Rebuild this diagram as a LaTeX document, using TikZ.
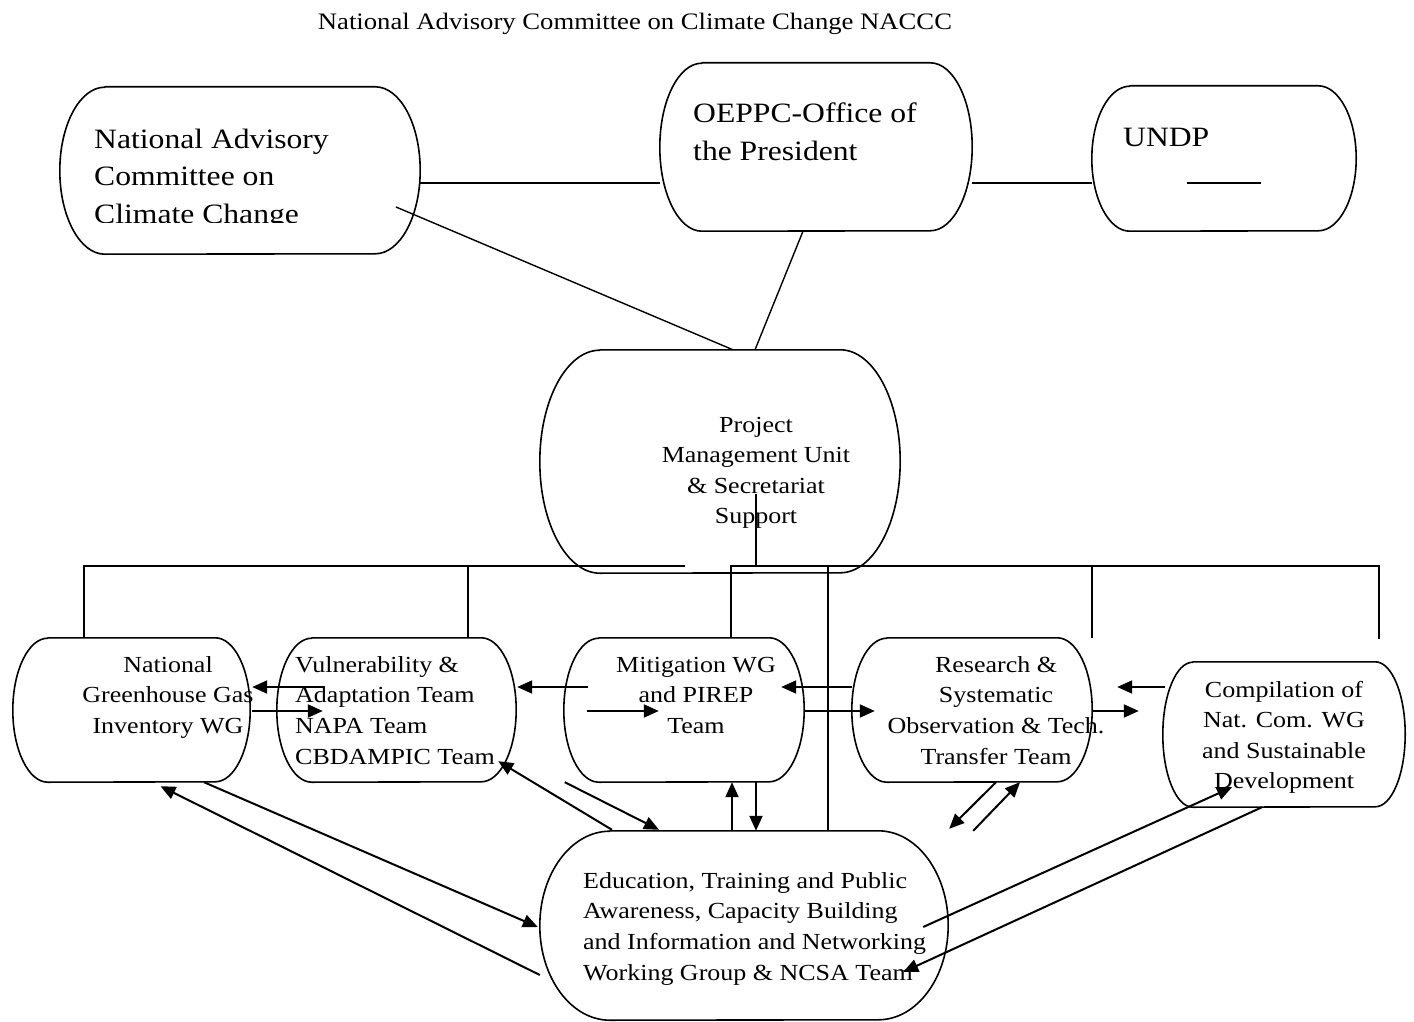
\documentclass[tikz,border=0pt]{standalone}
\usepackage{fontspec}
\setmainfont{Liberation Serif}[FakeStretch=1.13]
\usetikzlibrary{arrows.meta}
\tikzset{
  shapebox/.style 2 args={rectangle, draw=none, inner sep=0pt, minimum width=#1, minimum height=#2},
  outline/.style={line width=1.6pt, line join=round},
  link/.style={line width=1.4pt},
  bus/.style={line width=1.8pt},
  arr/.style={line width=2pt, -{Triangle[length=15pt,width=13pt]}},
  big/.style={font=\fontsize{28}{37.5}\selectfont, inner sep=0pt},
  small/.style={font=\fontsize{23}{30.7}\selectfont, inner sep=0pt},
}
\newcommand\capsule[3]{%
  \draw[outline] ([xshift=#2]#1.north west) -- ([xshift=-#2]#1.north east)
    arc[start angle=90, end angle=-90, x radius=#2, y radius=#3]
    -- ([xshift=#2]#1.south west)
    arc[start angle=270, end angle=90, x radius=#2, y radius=#3] -- cycle;}
\newcommand\lft[1]{\begin{tabular}[t]{@{}l@{}}#1\end{tabular}}
\newcommand\ctr[1]{\begin{tabular}[t]{@{}c@{}}#1\end{tabular}}
\begin{document}
\begin{tikzpicture}[x=1pt,y=1pt]
\useasboundingbox (0,0) rectangle (1414,-1022);
% title
\node[anchor=base, font=\fontsize{23.6}{28}\selectfont, inner sep=0pt] (title) at (635,-30) {National Advisory Committee on Climate Change NACCC};
% shapes
\node[shapebox={360pt}{167pt}] (nacc) at (240,-170.5) {};
\node[shapebox={312pt}{168pt}] (oeppc) at (816,-147) {};
\node[shapebox={264pt}{145pt}] (undp) at (1224,-158.5) {};
\node[shapebox={360pt}{223pt}] (pmu) at (720,-461.5) {};
\node[shapebox={237pt}{144pt}] (ngg) at (131.5,-710) {};
\node[shapebox={239pt}{144pt}] (va) at (396.5,-710) {};
\node[shapebox={240pt}{144pt}] (mit) at (684,-710) {};
\node[shapebox={240pt}{144pt}] (rsa) at (972,-710) {};
\node[shapebox={242pt}{145pt}] (comp) at (1284,-734.5) {};
\node[shapebox={408pt}{189pt}] (edu) at (744,-925.5) {};
\capsule{nacc}{45pt}{83.5pt}
\capsule{oeppc}{42pt}{84pt}
\capsule{undp}{38pt}{72.5pt}
\capsule{pmu}{60pt}{111.5pt}
\capsule{ngg}{35pt}{72pt}
\capsule{va}{35pt}{72pt}
\capsule{mit}{35pt}{72pt}
\capsule{rsa}{35pt}{72pt}
\capsule{comp}{30pt}{72.5pt}
\capsule{edu}{70pt}{94.5pt}
% texts
\begin{scope}
\clip (60,-90) rectangle (420,-222.5);
\node[big, anchor=base west] (nacc-t) at (94,-148.3) {\lft{National Advisory\\Committee on\\Climate Change}};
\end{scope}
\node[big, anchor=base west] (oeppc-t) at (693,-123) {\lft{OEPPC-Office of\\the President}};
\node[big, anchor=base west] (undp-t) at (1123,-146.7) {UNDP};
\draw[bus] ([shift={(-37pt,-24.5pt)}]undp.center) -- ([shift={(37pt,-24.5pt)}]undp.center);
\node[small, anchor=base, font=\fontsize{23}{30.5}\selectfont] (pmu-t) at (756,-432) {\ctr{Project\\Management Unit\\\& Secretariat\\Support}};
\node[small, anchor=base] (ngg-t) at (168,-672) {\ctr{National\\Greenhouse Gas\\Inventory WG}};
\node[small, anchor=base west] (va-t) at (295,-672) {\lft{Vulnerability \&\\Adaptation Team\\NAPA Team\\CBDAMPIC Team}};
\node[small, anchor=base] (mit-t) at (696,-672) {\ctr{Mitigation WG\\and PIREP\\Team}};
\node[small, anchor=base] (rsa-t) at (996,-672) {\ctr{Research \&\\Systematic\\Observation \& Tech.\\Transfer Team}};
\node[small, anchor=base, font=\fontsize{23}{30.5}\selectfont] (comp-t) at (1284,-697) {\ctr{Compilation of\\Nat. Com. WG\\and Sustainable\\Development}};
\node[small, anchor=base west] (edu-t) at (583,-888) {\lft{Education, Training and Public\\Awareness, Capacity Building\\and Information and Networking\\Working Group \& NCSA Team}};
% top links
\draw[link] ([yshift=-12.5pt]nacc.east) -- ([yshift=-36pt]oeppc.west);
\draw[link] ([yshift=-36pt]oeppc.east) -- ([yshift=-24.5pt]undp.west);
\draw[link] ([shift={(156pt,-36.5pt)}]nacc.center) -- ([xshift=13pt]pmu.north);
\draw[link] ([xshift=-13pt]oeppc.south) -- ([xshift=35pt]pmu.north);
% buses
\coordinate (busL) at (685,-566);
\coordinate (busR) at (1379,-566);
\coordinate (busRend) at (1379,-639);
\draw[bus] ([shift={(36pt,-32.5pt)}]pmu.center) -- +(0,-72);
\draw[bus] ([xshift=-47.5pt]ngg.north) |- (busL);
\draw[bus] ([xshift=71.5pt]va.north) -- +(0,72);
\draw[bus] ([xshift=47pt]mit.north) |- (busR) -- (busRend);
\draw[bus] ([xshift=84pt]edu.north) -- +(0,265);
\draw[bus] (rsa.north east) -- +(0,72);
% horizontal arrows
\draw[arr] ([shift={(46pt,23pt)}]va.west) -- ([shift={(2pt,23pt)}]ngg.east);
\draw[arr] ([shift={(2pt,-1pt)}]ngg.east) -- ([shift={(46pt,-1pt)}]va.west);
\draw[arr] ([shift={(24pt,23pt)}]mit.west) -- ([shift={(1pt,23pt)}]va.east);
\draw[arr] ([shift={(23pt,-1pt)}]mit.west) -- ([shift={(95pt,-1pt)}]mit.west);
\draw[arr] ([yshift=23pt]rsa.west) -- ([shift={(-23pt,23pt)}]mit.east);
\draw[arr] ([yshift=-1pt]mit.east) -- ([shift={(23pt,-1pt)}]rsa.west);
\draw[arr] ([shift={(2pt,47.5pt)}]comp.west) -- ([shift={(25pt,23pt)}]rsa.east);
\draw[arr] ([yshift=-1pt]rsa.east) -- ([shift={(-24pt,23.5pt)}]comp.west);
% diagonal and vertical arrows
\draw[arr] ([yshift=-49.5pt]edu.west) -- ([shift={(29pt,-4pt)}]ngg.south);
\draw[arr] ([xshift=72.5pt]ngg.south) -- ([shift={(-2pt,-1.5pt)}]edu.west);
\draw[arr] ([shift={(-132pt,1pt)}]edu.north) -- ([shift={(-18pt,21pt)}]va.south east);
\draw[arr] ([xshift=1pt]mit.south west) -- ([shift={(-85pt,1pt)}]edu.north);
\draw[arr] ([xshift=-12pt]edu.north) -- ([xshift=48pt]mit.south);
\draw[arr] ([xshift=72pt]mit.south) -- ([xshift=12pt]edu.north);
\draw[arr] ([xshift=24pt]rsa.south) -- ([shift={(1pt,2pt)}]edu.north east);
\draw[arr] ([xshift=25pt]edu.north east) -- ([xshift=48pt]rsa.south);
\draw[arr] ([shift={(-25pt,-1.5pt)}]edu.east) -- ([shift={(-52pt,20pt)}]comp.south);
\draw[arr] ([xshift=-22pt]comp.south) -- ([shift={(-45pt,-46.5pt)}]edu.east);
\end{tikzpicture}
\end{document}
